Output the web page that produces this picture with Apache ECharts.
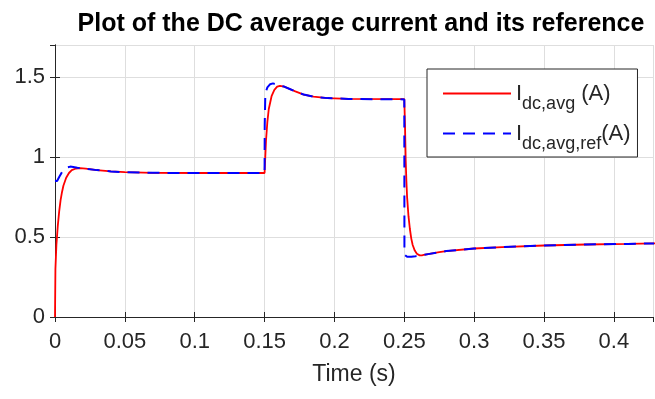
<!DOCTYPE html>
<html>
<head>
<meta charset="utf-8">
<script src="https://cdn.jsdelivr.net/npm/echarts@6/dist/echarts.min.js"></script>
<style>
  html, body { margin: 0; padding: 0; background: #fff; }
  #chart { width: 655px; height: 399px; }
</style>
</head>
<body>
<div id="chart"></div>
<script>
// measured current I_dc,avg (red)
var timeMeas = [0, 0.0003, 0.001, 0.002, 0.003, 0.004, 0.005, 0.006, 0.008, 0.01, 0.012, 0.015, 0.018, 0.022, 0.03, 0.04, 0.05, 0.07, 0.1, 0.15,
    0.1505, 0.151, 0.152, 0.153, 0.155, 0.157, 0.159, 0.161, 0.164, 0.168, 0.172, 0.178, 0.185, 0.195, 0.21, 0.25,
    0.2505, 0.251, 0.2515, 0.252, 0.253, 0.254, 0.255, 0.256, 0.2575, 0.259, 0.261, 0.263, 0.267, 0.275, 0.28, 0.3, 0.32, 0.35, 0.38, 0.41, 0.43];
var currMeas = [0, 0.3, 0.45, 0.57, 0.66, 0.73, 0.78, 0.82, 0.87, 0.9, 0.918, 0.928, 0.93, 0.927, 0.918, 0.91, 0.905, 0.901, 0.9, 0.9,
    1.0, 1.1, 1.22, 1.3, 1.38, 1.42, 1.44, 1.445, 1.44, 1.425, 1.41, 1.39, 1.377, 1.368, 1.363, 1.362,
    1.2, 0.98, 0.85, 0.75, 0.63, 0.55, 0.49, 0.45, 0.415, 0.395, 0.385, 0.386, 0.393, 0.405, 0.412, 0.428, 0.437, 0.447, 0.453, 0.457, 0.46];

// reference I_dc,avg,ref (blue dashed)
var timeRef = [0, 0.0015, 0.003, 0.005, 0.007, 0.009, 0.011, 0.013, 0.016, 0.022, 0.03, 0.04, 0.05, 0.07, 0.1, 0.15,
    0.1501, 0.1505, 0.151, 0.152, 0.154, 0.156, 0.158, 0.161, 0.164, 0.168, 0.172, 0.178, 0.185, 0.195, 0.21, 0.25,
    0.2501, 0.252, 0.255, 0.258, 0.261, 0.263, 0.267, 0.275, 0.28, 0.3, 0.32, 0.35, 0.38, 0.41, 0.43];
var currRef = [0.85, 0.85, 0.875, 0.905, 0.925, 0.935, 0.94, 0.938, 0.933, 0.927, 0.918, 0.91, 0.905, 0.901, 0.9, 0.9,
    1.2, 1.38, 1.41, 1.435, 1.455, 1.46, 1.455, 1.445, 1.44, 1.425, 1.41, 1.39, 1.377, 1.368, 1.363, 1.36,
    0.39, 0.376, 0.377, 0.38, 0.384, 0.386, 0.393, 0.405, 0.412, 0.428, 0.437, 0.447, 0.453, 0.457, 0.46];

var xTicks = [0, 0.05, 0.1, 0.15, 0.2, 0.25, 0.3, 0.35, 0.4];
var yTicks = [0, 0.5, 1, 1.5];

function pairs(t, v) {
    return t.map(function (x, i) { return [x, v[i]]; });
}

var font = 'Liberation Sans, Arial, Helvetica, sans-serif';
var axisCol = '#262626';

var chart = echarts.init(document.getElementById('chart'));

var legendRich = {
    m: { fontSize: 22, fontFamily: font, color: axisCol, lineHeight: 22, verticalAlign: 'middle' },
    s: { fontSize: 18, fontFamily: font, color: axisCol, lineHeight: 20, padding: [21, 0, 0, 0], verticalAlign: 'middle' }
};

option = {
    animation: false,
    backgroundColor: '#fff',
    title: {
        text: 'Plot of the DC average current and its reference',
        left: 356,
        top: 7,
        textAlign: 'center',
        textStyle: { fontFamily: font, fontSize: 25, fontWeight: 'bold', color: '#000' }
    },
    grid: { left: 55, right: 2, top: 45, bottom: 82, containLabel: false, outerBoundsMode: 'none' },
    legend: {
        orient: 'vertical',
        left: 427,
        top: 69,
        padding: [5, 7, 4, 15],
        itemGap: 1,
        itemWidth: 68,
        itemHeight: 14,
        borderColor: axisCol,
        borderWidth: 1,
        backgroundColor: '#fff',
        itemStyle: { opacity: 0 },
        data: ['meas', 'ref'],
        formatter: function (name) {
            return name === 'meas' ? '{m|I}{s|dc,avg}{m| (A)}' : '{m|I}{s|dc,avg,ref}{m|(A)}';
        },
        textStyle: { rich: legendRich }
    },
    xAxis: [{
        type: 'value',
        min: 0,
        max: 0.428,
        interval: 0.05,
        name: 'Time (s)',
        nameLocation: 'middle',
        nameGap: 46,
        nameTextStyle: { fontFamily: font, fontSize: 23, color: axisCol },
        axisLine: { lineStyle: { color: axisCol, width: 1 } },
        axisTick: { inside: true, length: 5, lineStyle: { color: axisCol } },
        axisLabel: {
            fontFamily: font, fontSize: 22, color: axisCol, margin: 14, showMaxLabel: false,
            formatter: function (v) { return xTicks.indexOf(+v.toFixed(2)) >= 0 ? String(+v.toFixed(2)) : ''; }
        },
        splitLine: { show: true, lineStyle: { color: '#dedede', width: 1 } }
    }, {
        type: 'value',
        position: 'top',
        min: 0,
        max: 0.428,
        interval: 0.05,
        axisLine: { show: true, lineStyle: { color: axisCol, width: 1 } },
        axisTick: { show: true, inside: true, length: 5, lineStyle: { color: axisCol } },
        axisLabel: { show: false },
        splitLine: { show: false }
    }],
    yAxis: [{
        type: 'value',
        min: 0,
        max: 1.7,
        interval: 0.5,
        axisLine: { show: true, lineStyle: { color: axisCol, width: 1 } },
        axisTick: { show: true, inside: true, length: 5, lineStyle: { color: axisCol } },
        axisLabel: {
            fontFamily: font, fontSize: 22, color: axisCol, margin: 10, showMaxLabel: false,
            formatter: function (v) { return yTicks.indexOf(+v.toFixed(2)) >= 0 ? String(+v.toFixed(2)) : ''; }
        },
        splitLine: { show: true, lineStyle: { color: '#dedede', width: 1 } }
    }, {
        type: 'value',
        position: 'right',
        min: 0,
        max: 1.7,
        interval: 0.5,
        axisLine: { show: true, lineStyle: { color: axisCol, width: 1 } },
        axisTick: { show: true, inside: true, length: 5, lineStyle: { color: axisCol } },
        axisLabel: { show: false },
        splitLine: { show: false }
    }],
    series: [{
        name: 'meas',
        type: 'line',
        symbol: 'none',
        data: pairs(timeMeas, currMeas),
        lineStyle: { color: '#ff0000', width: 1.8 },
        itemStyle: { color: '#ff0000' }
    }, {
        name: 'ref',
        type: 'line',
        symbol: 'none',
        data: pairs(timeRef, currRef),
        lineStyle: { color: '#0000ff', width: 2, type: [12, 8] },
        itemStyle: { color: '#0000ff' }
    }]
};

chart.setOption(option);
</script>
</body>
</html>
